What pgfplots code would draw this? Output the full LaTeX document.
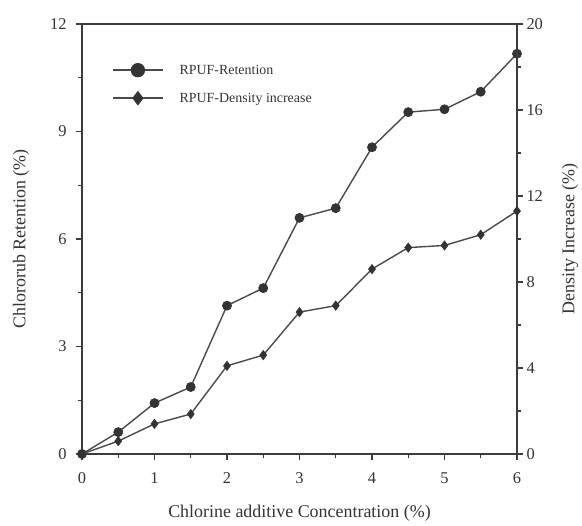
\documentclass[border=0pt]{standalone}
\usepackage{pgfplots}
\pgfplotsset{compat=1.18}
\usepackage{fontspec}
\setmainfont{Liberation Serif}
\definecolor{ink}{HTML}{333333}
\definecolor{lin}{HTML}{4A4A4A}
\definecolor{axc}{HTML}{3C3C3C}
\pgfplotsset{
 base/.style={scale only axis, width=435bp, height=430bp, at={(0,0)}, anchor=south west,
  xmin=0, xmax=6, clip=false,
  axis line style={axc, line width=1.6bp},
  tick style={axc, line width=1.1bp},
  major tick length=6bp, minor tick length=4bp,
  tick align=outside,
  ticklabel style={font=\fontsize{16.5}{18}\selectfont, text=ink},
  /pgf/number format/assume math mode=true,
 },
}
\begin{document}
\begin{tikzpicture}
\useasboundingbox (-82bp,-72bp) rectangle (500bp,454bp);
\begin{axis}[base,
  ymin=0, ymax=12,
  xtick={0,1,...,6}, minor xtick={0.5,1.5,...,5.5},
  ytick={0,3,...,12}, minor ytick={1.5,4.5,7.5,10.5},
  xtick pos=bottom, ytick pos=left,
  yticklabel style={xshift=-6bp},
  xticklabel style={yshift=-9bp},
  xlabel={Chlorine additive Concentration (\%)},
  ylabel={Chlororub Retention (\%)},
  every axis x label/.style={at={(rel axis cs:0.5,0)}, anchor=center, yshift=-59bp, font=\fontsize{18}{20}\selectfont, text=ink},
  every axis y label/.style={at={(rel axis cs:0,0.5)}, anchor=center, rotate=90, yshift=61bp, font=\fontsize{18}{20}\selectfont, text=ink},
  legend style={at={(rel axis cs:0,1)}, anchor=north west, xshift=30bp, yshift=-32bp,
    draw=none, fill=none, inner sep=0pt, column sep=16bp,
    nodes={inner sep=0pt, minimum height=28bp, text=ink, font=\fontsize{14}{16}\selectfont}},
  legend cell align=left,
  legend image code/.code={\draw[#1, every mark/.append style={scale=1.5}, mark repeat=2, mark phase=2] plot coordinates {(0bp,0bp) (25bp,0bp) (50bp,0bp)};},
]
\addplot[lin, line width=1.4bp, mark=*, mark size=4.5bp, mark options={fill=ink, draw=ink, line width=0.8bp}] coordinates {
(0,0) (0.5,0.61) (1,1.42) (1.5,1.87) (2,4.14) (2.5,4.63) (3,6.59) (3.5,6.86) (4,8.56) (4.5,9.54) (5,9.62) (5.5,10.11) (6,11.17)};
\addlegendentry{RPUF-Retention}
\addlegendimage{lin, line width=1.4bp, mark=diamond*, mark size=4.5bp, mark options={fill=ink, draw=ink, line width=0.8bp}}
\addlegendentry{RPUF-Density increase}
\end{axis}
\begin{axis}[base,
  ymin=0, ymax=20,
  axis x line=none, axis y line*=right,
  ytick={0,4,...,20}, minor ytick={2,6,...,18},
  ylabel={Density Increase (\%)},
  every axis y label/.style={at={(rel axis cs:1,0.5)}, anchor=center, rotate=90, yshift=-53bp, font=\fontsize{18}{20}\selectfont, text=ink},
]
\addplot[lin, line width=1.4bp, mark=diamond*, mark size=4.5bp, mark options={fill=ink, draw=ink, line width=0.8bp}] coordinates {
(0,0) (0.5,0.6) (1,1.4) (1.5,1.86) (2,4.1) (2.5,4.6) (3,6.6) (3.5,6.9) (4,8.6) (4.5,9.6) (5,9.7) (5.5,10.2) (6,11.3)};
\end{axis}
\end{tikzpicture}
\end{document}
